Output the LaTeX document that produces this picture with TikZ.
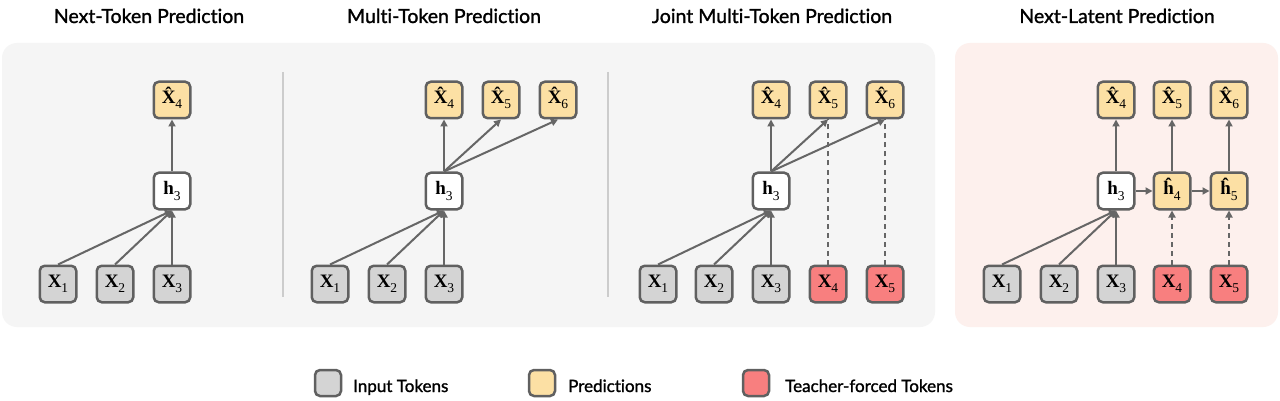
\documentclass[tikz,border=0pt]{standalone}
\usepackage{fontspec}
\setmainfont{Liberation Serif}
\newfontfamily\titlefont[Ligatures={NoCommon}, BoldFont={Lato}, BoldFeatures={FakeBold=1.3}]{Lato}
\usetikzlibrary{arrows.meta}
\definecolor{panelgray}{HTML}{F5F5F5}
\definecolor{panelpink}{HTML}{FDF0ED}
\definecolor{sepgray}{HTML}{CCCCCC}
\definecolor{boxborder}{HTML}{606060}
\definecolor{inputfill}{HTML}{D4D4D4}
\definecolor{predfill}{HTML}{FCE0A4}
\definecolor{teachfill}{HTML}{F87F7F}
\definecolor{arrowgray}{HTML}{666666}
\newcommand{\subdig}[1]{\raisebox{-0.28em}{\fontsize{13.5}{13.5}\selectfont #1}}
\newcommand{\tokX}[1]{\textbf{X}\subdig{#1}}
\newcommand{\tokh}[1]{\textbf{h}\subdig{#1}}
\newcommand{\withhat}[1]{\ooalign{\textbf{#1}\cr\hidewidth\raisebox{0.16em}{\textbf{ˆ}}\hidewidth\cr}}
\newcommand{\predX}[1]{\withhat{X}\subdig{#1}}
\newcommand{\predh}[1]{\withhat{h}\subdig{#1}}
\begin{document}
\begin{tikzpicture}[x=1pt,y=-1pt,
  tok/.style={draw=boxborder, line width=2.5pt, rounded corners=5pt,
    minimum width=36.5pt, minimum height=36.5pt, inner sep=0pt,
    font=\fontsize{19}{19}\selectfont},
  inp/.style={tok, fill=inputfill},
  pred/.style={tok, fill=predfill},
  teach/.style={tok, fill=teachfill},
  hid/.style={tok, fill=white},
  legbox/.style={draw=boxborder, line width=2.5pt, rounded corners=5pt,
    minimum width=26pt, minimum height=26pt, inner sep=0pt},
  arr/.style={draw=arrowgray, line width=2pt, -{Triangle[length=7pt,width=7pt]}},
  link/.style={draw=arrowgray, line width=2pt},
  dsh/.style={dash pattern=on 5pt off 4pt},
  ttl/.style={font=\titlefont\bfseries\fontsize{19.5}{19.5}\selectfont, anchor=base},
  legtext/.style={font=\titlefont\bfseries\fontsize{17}{17}\selectfont, anchor=base west, inner sep=0pt},
  sep/.style={draw=sepgray, line width=1.5pt}
]
\useasboundingbox (0,0) rectangle (1280,401);
\fill[white] (0,0) rectangle (1280,401);

% panels
\fill[panelgray, rounded corners=15pt] (2,43) rectangle (935,327);
\fill[panelpink, rounded corners=15pt] (955,43) rectangle (1278,327);
\draw[sep] (283,72) -- (283,297);
\draw[sep] (608,72) -- (608,297);

% titles
\node[ttl] (t1) at (149,23) {Next-Token Prediction};
\node[ttl] (t2) at (444,23) {Multi-Token Prediction};
\node[ttl] (t3) at (772,23) {Joint Multi-Token Prediction};
\node[ttl] (t4) at (1117,23) {Next-Latent Prediction};

% panel 1
\node[inp] (a1) at (58,284) {\tokX{1}};
\node[inp] (a2) at (115,284) {\tokX{2}};
\node[inp] (a3) at (172,284) {\tokX{3}};
\node[hid] (ah) at (172,191) {\tokh{3}};
\node[pred] (ap4) at (172,100) {\predX{4}};
\draw[arr] (a1.north) -- (ah.south);
\draw[arr] (a2.north) -- (ah.south);
\draw[arr] (a3.north) -- (ah.south);
\draw[arr] (ah.north) -- (ap4.south);

% panel 2
\node[inp] (b1) at (330,284) {\tokX{1}};
\node[inp] (b2) at (387,284) {\tokX{2}};
\node[inp] (b3) at (444,284) {\tokX{3}};
\node[hid] (bh) at (444,191) {\tokh{3}};
\node[pred] (bp4) at (444,100) {\predX{4}};
\node[pred] (bp5) at (501,100) {\predX{5}};
\node[pred] (bp6) at (558,100) {\predX{6}};
\draw[arr] (b1.north) -- (bh.south);
\draw[arr] (b2.north) -- (bh.south);
\draw[arr] (b3.north) -- (bh.south);
\draw[arr] (bh.north) -- (bp4.south);
\draw[arr] (bh.north) -- (bp5.south);
\draw[arr] (bh.north) -- (bp6.south);

% panel 3
\node[inp] (c1) at (658,284) {\tokX{1}};
\node[inp] (c2) at (714,284) {\tokX{2}};
\node[inp] (c3) at (771,284) {\tokX{3}};
\node[teach] (c4) at (828,284) {\tokX{4}};
\node[teach] (c5) at (885,284) {\tokX{5}};
\node[hid] (ch) at (771,191) {\tokh{3}};
\node[pred] (cp4) at (771,100) {\predX{4}};
\node[pred] (cp5) at (828,100) {\predX{5}};
\node[pred] (cp6) at (885,100) {\predX{6}};
\draw[link, dsh] (c4.north) -- (cp5.south);
\draw[link, dsh] (c5.north) -- (cp6.south);
\draw[arr] (c1.north) -- (ch.south);
\draw[arr] (c2.north) -- (ch.south);
\draw[arr] (c3.north) -- (ch.south);
\draw[arr] (ch.north) -- (cp4.south);
\draw[arr] (ch.north) -- (cp5.south);
\draw[arr] (ch.north) -- (cp6.south);

% panel 4
\node[inp] (d1) at (1002,284) {\tokX{1}};
\node[inp] (d2) at (1059,284) {\tokX{2}};
\node[inp] (d3) at (1116,284) {\tokX{3}};
\node[teach] (d4) at (1172,284) {\tokX{4}};
\node[teach] (d5) at (1229,284) {\tokX{5}};
\node[hid] (dh) at (1116,191) {\tokh{3}};
\node[pred] (dh4) at (1172,191) {\predh{4}};
\node[pred] (dh5) at (1229,191) {\predh{5}};
\node[pred] (dp4) at (1116,100) {\predX{4}};
\node[pred] (dp5) at (1172,100) {\predX{5}};
\node[pred] (dp6) at (1229,100) {\predX{6}};
\draw[arr] (d1.north) -- (dh.south);
\draw[arr] (d2.north) -- (dh.south);
\draw[arr] (d3.north) -- (dh.south);
\draw[arr, dsh] (d4.north) -- (dh4.south);
\draw[arr, dsh] (d5.north) -- (dh5.south);
\draw[arr] (dh.east) -- (dh4.west);
\draw[arr] (dh4.east) -- (dh5.west);
\draw[arr] (dh.north) -- (dp4.south);
\draw[arr] (dh4.north) -- (dp5.south);
\draw[arr] (dh5.north) -- (dp6.south);

% legend
\node[legbox, fill=inputfill] (l1) at (328,383) {};
\node[legtext] (lt1) at (353,392) {Input Tokens};
\node[legbox, fill=predfill] (l2) at (542,383) {};
\node[legtext] (lt2) at (568,392) {Predictions};
\node[legbox, fill=teachfill] (l3) at (756,383) {};
\node[legtext] (lt3) at (785,392) {Teacher-forced Tokens};
\end{tikzpicture}
\end{document}
